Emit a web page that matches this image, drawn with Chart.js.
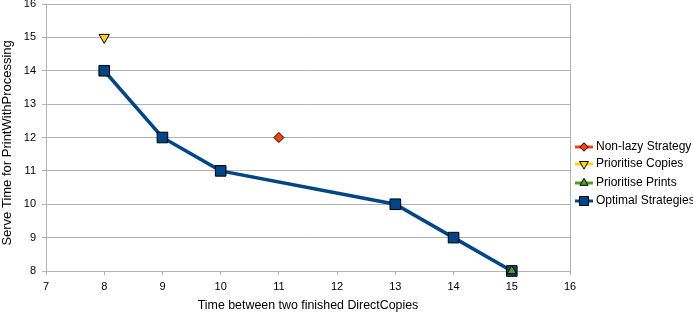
<!DOCTYPE html>
<html>
<head>
<meta charset="utf-8">
<script src="https://cdn.jsdelivr.net/npm/chart.js@4/dist/chart.umd.min.js"></script>
<style>
  html, body { margin: 0; padding: 0; background: #fff; }
  #wrap { width: 693px; height: 315px; }
</style>
</head>
<body>
<div id="wrap"><canvas id="chart" width="693" height="315"></canvas></div>
<script>
// values
const nonLazyX = [11];
const nonLazyY = [12];
const copiesX = [8];
const copiesY = [15];
const printsX = [15];
const printsY = [8];
const optimalX = [8, 9, 10, 13, 14, 15];
const optimalY = [14, 12, 11, 10, 9, 8];

const xTicks = [7, 8, 9, 10, 11, 12, 13, 14, 15, 16];
const yTicks = [8, 9, 10, 11, 12, 13, 14, 15, 16];

const seriesNames = ['Non-lazy Strategy', 'Prioritise Copies', 'Prioritise Prints', 'Optimal Strategies'];

const toPoints = (xs, ys) => xs.map((x, i) => ({ x: x, y: ys[i] }));

const FONT = 'Liberation Sans, Arial, sans-serif';
const GRID = '#b3b3b3';

// legend drawn by hand so each entry shows line + marker like the original
const sideLegend = {
    id: 'sideLegend',
    afterDraw(chart) {
        const ctx = chart.ctx;
        const x0 = 575;
        const rows = [147, 164, 183, 201];
        chart.data.datasets.forEach((ds, i) => {
            const y = rows[i];
            ctx.save();
            ctx.strokeStyle = ds.legendColor;
            ctx.lineWidth = 3;
            ctx.beginPath();
            ctx.moveTo(x0, y);
            ctx.lineTo(x0 + 18, y);
            ctx.stroke();
            ctx.fillStyle = ds.pointBackgroundColor;
            ctx.strokeStyle = '#000';
            ctx.lineWidth = 1;
            Chart.helpers.drawPoint(ctx, {
                pointStyle: ds.pointStyle,
                rotation: ds.pointRotation || 0,
                radius: ds.pointRadius * 0.85,
                borderWidth: 1
            }, x0 + 9, y);
            ctx.fillStyle = '#000';
            ctx.font = '12px ' + FONT;
            ctx.textBaseline = 'middle';
            ctx.fillText(ds.label, x0 + 21, y);
            ctx.restore();
        });
    }
};

new Chart(document.getElementById('chart'), {
    type: 'scatter',
    data: {
        datasets: [
            {
                label: seriesNames[0],
                data: toPoints(nonLazyX, nonLazyY),
                pointStyle: 'rectRot',
                pointRadius: 5,
                pointBackgroundColor: '#ff420e',
                pointBorderColor: '#000',
                pointBorderWidth: 1,
                legendColor: '#ff420e',
                showLine: false,
                clip: false,
                order: 2
            },
            {
                label: seriesNames[1],
                data: toPoints(copiesX, copiesY),
                pointStyle: 'triangle',
                pointRotation: 180,
                pointRadius: 6,
                pointBackgroundColor: '#ffd320',
                pointBorderColor: '#000',
                pointBorderWidth: 1,
                legendColor: '#ffd320',
                showLine: false,
                clip: false,
                order: 2
            },
            {
                label: seriesNames[2],
                data: toPoints(printsX, printsY),
                pointStyle: 'triangle',
                pointRadius: 5.5,
                pointBackgroundColor: '#579d1c',
                pointBorderColor: '#000',
                pointBorderWidth: 1,
                legendColor: '#579d1c',
                showLine: false,
                clip: false,
                order: 1
            },
            {
                label: seriesNames[3],
                data: toPoints(optimalX, optimalY),
                pointStyle: 'rect',
                pointRadius: 7.5,
                pointBackgroundColor: '#004586',
                pointBorderColor: '#000',
                pointBorderWidth: 1,
                legendColor: '#004586',
                showLine: true,
                borderColor: '#004586',
                borderWidth: 3.5,
                tension: 0,
                clip: false,
                order: 3
            }
        ]
    },
    options: {
        responsive: false,
        animation: false,
        layout: { autoPadding: false, padding: { top: 4, right: 123, left: 0, bottom: 0 } },
        plugins: {
            legend: { display: false },
            tooltip: { enabled: false }
        },
        scales: {
            x: {
                type: 'linear',
                min: 7,
                max: 16,
                afterBuildTicks: (axis) => { axis.ticks = xTicks.map(v => ({ value: v })); },
                afterFit: (axis) => { axis.height = 44; },
                ticks: { color: '#000', font: { family: FONT, size: 11 }, padding: 5, maxRotation: 0 },
                grid: { drawOnChartArea: false, drawTicks: true, tickLength: 4, color: GRID },
                border: { display: true, color: GRID },
                title: {
                    display: true,
                    text: 'Time between two finished DirectCopies',
                    color: '#000',
                    font: { family: FONT, size: 12.4 },
                    padding: { top: 2, bottom: 2 }
                }
            },
            y: {
                min: 8,
                max: 16,
                afterBuildTicks: (axis) => { axis.ticks = yTicks.map(v => ({ value: v })); },
                afterFit: (axis) => {
                    axis.width = 46;
                    // let the top gridline sit right under the canvas edge
                    axis.paddingTop = 0;
                    axis.paddingBottom = 0;
                },
                ticks: { color: '#000', font: { family: FONT, size: 11 }, padding: 6 },
                grid: { color: GRID, tickLength: 4 },
                border: { display: true, color: GRID },
                title: {
                    display: true,
                    // trailing spaces nudge the text a little lower, like the original
                    text: 'Serve Time for PrintWithProcessing   ',
                    color: '#000',
                    font: { family: FONT, size: 13 },
                    padding: { top: 0, bottom: 0 }
                }
            },
            yRight: {
                position: 'right',
                min: 8,
                max: 16,
                afterFit: (axis) => { axis.width = 0; axis.paddingTop = 0; axis.paddingBottom = 0; },
                ticks: { display: false },
                grid: { drawOnChartArea: false, drawTicks: false },
                border: { display: true, color: GRID }
            }
        }
    },
    plugins: [sideLegend]
});
</script>
</body>
</html>
